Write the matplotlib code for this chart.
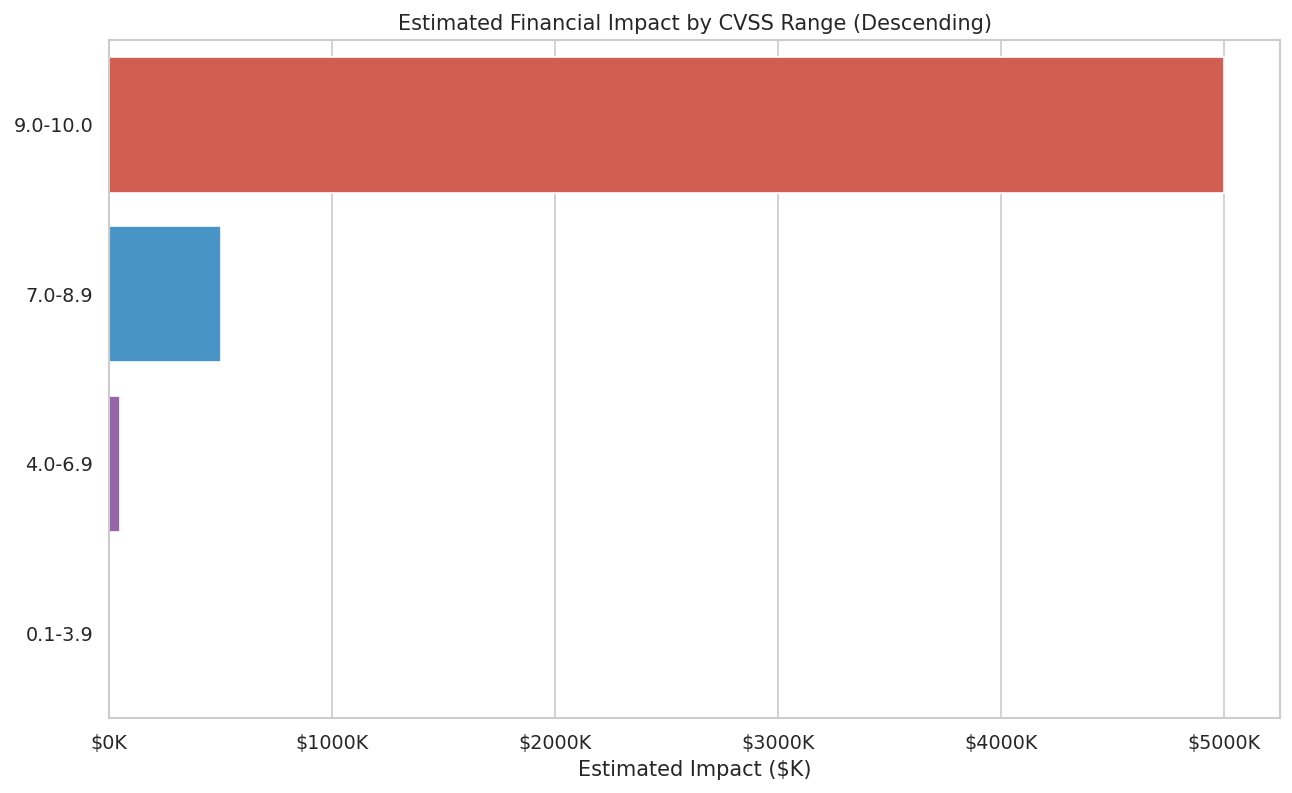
import matplotlib
matplotlib.use("Agg")
import matplotlib.pyplot as plt
import seaborn as sns
import pandas as pd
from matplotlib.ticker import FuncFormatter

categories = ["9.0-10.0", "7.0-8.9", "4.0-6.9", "0.1-3.9"]
impact_k = [5000, 500, 50, 5]
colors = ["#e74c3c", "#3498db", "#9b59b6", "#2ecc71"]

sns.set_theme(style="whitegrid")
plt.rcParams['font.family'] = ['DejaVu Sans']

df = pd.DataFrame({"range": categories, "impact": impact_k})

DPI = 120
fig = plt.figure(figsize=(1292/DPI, 793/DPI), dpi=DPI)
ax = fig.add_axes([109/1292, 1 - 718/793, (1280-109)/1292, (718-40)/793])
sns.barplot(data=df, x="impact", y="range", hue="range", palette=colors,
            legend=False, ax=ax, saturation=0.75)
ax.set_title("Estimated Financial Impact by CVSS Range (Descending)", fontsize=12.5)
ax.set_xlabel("Estimated Impact ($K)", fontsize=12.5)
ax.set_ylabel("")
ax.xaxis.set_major_formatter(FuncFormatter(lambda v, p: f"${int(v)}K"))
ax.tick_params(labelsize=11.5)
for s in ax.spines.values():
    s.set_color("#cccccc")
    s.set_linewidth(1.25)
fig.savefig("out.png", dpi=DPI)
